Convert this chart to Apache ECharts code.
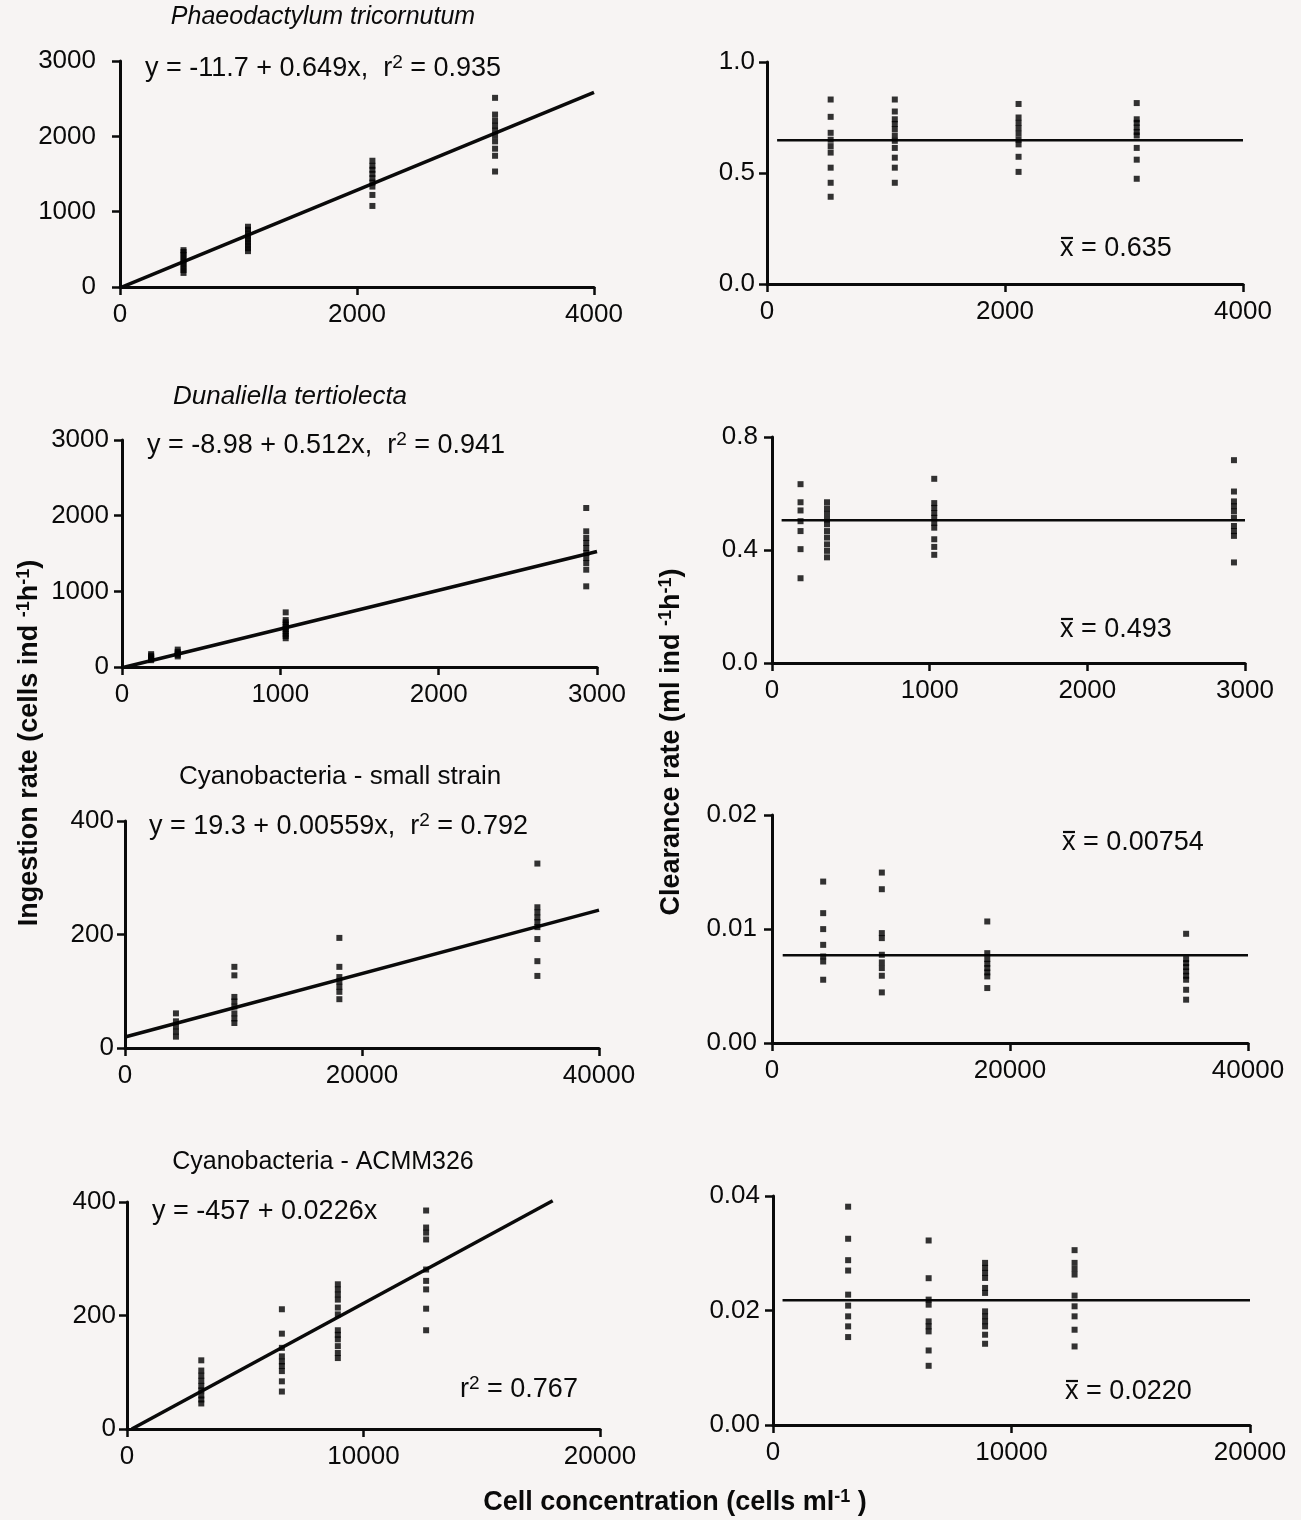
<!DOCTYPE html>
<html><head><meta charset="utf-8">
<script src="https://cdn.jsdelivr.net/npm/echarts@6/dist/echarts.min.js"></script>
<style>html,body{margin:0;padding:0;background:#f7f4f3}#c{width:1301px;height:1520px}</style>
</head><body><div id="c"></div>
<script>
// ---------- DATA ----------
// Phaeodactylum tricornutum
const phaeoConc = [536, 1080, 2130, 3165];
const phaeoIngestion = [
  [187, 225, 265, 305, 345, 385, 425, 465, 489],
  [476, 515, 555, 595, 635, 675, 715, 760, 800],
  [1676, 1609, 1556, 1502, 1444, 1387, 1333, 1222, 1076],
  [2511, 2289, 2209, 2142, 2076, 2009, 1933, 1836, 1742, 1533]
];
const phaeoClearConc = [535, 1074, 2114, 3107];
const phaeoClearance = [
  [0.831, 0.753, 0.681, 0.650, 0.621, 0.592, 0.524, 0.456, 0.393],
  [0.831, 0.777, 0.742, 0.721, 0.698, 0.669, 0.645, 0.613, 0.569, 0.524, 0.456],
  [0.811, 0.750, 0.726, 0.702, 0.677, 0.650, 0.629, 0.573, 0.505],
  [0.815, 0.742, 0.726, 0.705, 0.685, 0.669, 0.613, 0.560, 0.474]
];
// Dunaliella tertiolecta
const dunaConc = [184, 352, 1034, 2932];
const dunaIngestion = [
  [90, 110, 130, 150, 170],
  [140, 160, 180, 200, 230],
  [722, 620, 590, 560, 530, 500, 470, 440, 410, 380],
  [2101, 1793, 1705, 1639, 1573, 1507, 1440, 1374, 1286, 1066]
];
const dunaClearConc = [181, 349, 1029, 2930];
const dunaClearance = [
  [0.633, 0.569, 0.540, 0.502, 0.467, 0.403, 0.300],
  [0.569, 0.547, 0.528, 0.508, 0.491, 0.467, 0.444, 0.420, 0.397, 0.374],
  [0.652, 0.566, 0.549, 0.531, 0.514, 0.496, 0.479, 0.438, 0.411, 0.383],
  [0.718, 0.607, 0.572, 0.555, 0.537, 0.514, 0.485, 0.467, 0.450, 0.356]
];
// Cyanobacteria - small strain
const smallConc = [4300, 9230, 18090, 34800];
const smallIngestion = [
  [61, 47, 38, 29, 20],
  [143, 128, 90, 82, 73, 61, 52, 44],
  [194, 143, 125, 117, 108, 99, 86],
  [325, 248, 239, 230, 222, 213, 192, 153, 127]
];
const smallClearConc = [4300, 9230, 18090, 34800];
const smallClearance = [
  [0.01416, 0.01139, 0.00999, 0.00861, 0.00759, 0.00715, 0.00555],
  [0.01495, 0.01349, 0.00964, 0.00920, 0.00774, 0.00707, 0.00657, 0.00590, 0.00444],
  [0.01066, 0.00788, 0.00736, 0.00695, 0.00657, 0.00619, 0.00584, 0.00482],
  [0.00958, 0.00736, 0.00701, 0.00666, 0.00628, 0.00590, 0.00555, 0.00467, 0.00380]
];
// Cyanobacteria - ACMM326
const acmmConc = [3141, 6549, 8915, 12648];
const acmmIngestion = [
  [121, 103, 94, 85, 76, 68, 59, 52, 45],
  [211, 168, 143, 128, 119, 111, 102, 84, 66],
  [255, 246, 237, 228, 214, 202, 174, 166, 158, 146, 134, 125],
  [385, 355, 346, 334, 281, 261, 246, 212, 174]
];
const acmmClearConc = [3150, 6526, 8892, 12645];
const acmmClearance = [
  [0.03813, 0.03253, 0.02879, 0.02698, 0.02277, 0.02085, 0.01898, 0.01723, 0.01536],
  [0.03223, 0.02564, 0.02190, 0.02102, 0.01810, 0.01723, 0.01635, 0.01302, 0.01034],
  [0.02832, 0.02745, 0.02657, 0.02569, 0.02394, 0.02307, 0.01985, 0.01898, 0.01810, 0.01723, 0.01577, 0.01419],
  [0.03054, 0.02832, 0.02727, 0.02628, 0.02260, 0.02073, 0.01898, 0.01664, 0.01372]
];

// regression fits (ingestion) and mean clearance lines as drawn
const fitIntercept = [-11.7, -8.98, 19.3, -4.57];
const fitSlope = [0.649, 0.512, 0.00559, 0.0226];
const fitRange = [[0, 4000], [0, 3000], [0, 40000], [202, 18000]];
const meanLevel = [0.648, 0.505, 0.0077, 0.0218];
const meanRange = [[85, 4000], [61, 3000], [900, 40000], [400, 20000]];

// tick labels
const phaeoXTicks = [0, 2000, 4000];
const dunaXTicks = [0, 1000, 2000, 3000];
const smallXTicks = [0, 20000, 40000];
const acmmXTicks = [0, 10000, 20000];
const phaeoIngTicks = [0, 1000, 2000, 3000];
const phaeoClrTicks = [0, 0.5, 1.0];
const dunaIngTicks = [0, 1000, 2000, 3000];
const dunaClrTicks = [0, 0.4, 0.8];
const smallIngTicks = [0, 200, 400];
const smallClrTicks = [0, 0.01, 0.02];
const acmmIngTicks = [0, 200, 400];
const acmmClrTicks = [0, 0.02, 0.04];

const titles = ['Phaeodactylum tricornutum', 'Dunaliella tertiolecta', 'Cyanobacteria - small strain', 'Cyanobacteria - ACMM326'];
const equations = [
  ['y = -11.7 + 0.649x,  r', '2', ' = 0.935'],
  ['y = -8.98 + 0.512x,  r', '2', ' = 0.941'],
  ['y = 19.3 + 0.00559x,  r', '2', ' = 0.792'],
  ['y = -457 + 0.0226x', '', '']
];
const meanLabels = ['0.635', '0.493', '0.00754', '0.0220'];

// ---------- LAYOUT ----------
const FONT = '"Liberation Sans", Arial, Helvetica, sans-serif';
const INK = '#0a0a0a';
const FS = 26;
const grids = [
  {left: 120, top: 61, width: 474, height: 226},
  {left: 767, top: 62, width: 476, height: 222},
  {left: 122, top: 440, width: 475, height: 227},
  {left: 772, top: 437, width: 473, height: 226},
  {left: 125, top: 821, width: 474, height: 227},
  {left: 772, top: 815, width: 476, height: 228},
  {left: 127, top: 1202, width: 473, height: 227},
  {left: 773, top: 1196, width: 477, height: 229}
];
const yLabelMargin = [24, 12, 13, 14, 11, 15, 11, 13];
const panels = [
  {x: phaeoXTicks, y: phaeoIngTicks, dec: 0, conc: phaeoConc, vals: phaeoIngestion, fit: 0},
  {x: phaeoXTicks, y: phaeoClrTicks, dec: 1, conc: phaeoClearConc, vals: phaeoClearance, mean: 0},
  {x: dunaXTicks, y: dunaIngTicks, dec: 0, conc: dunaConc, vals: dunaIngestion, fit: 1},
  {x: dunaXTicks, y: dunaClrTicks, dec: 1, conc: dunaClearConc, vals: dunaClearance, mean: 1},
  {x: smallXTicks, y: smallIngTicks, dec: 0, conc: smallConc, vals: smallIngestion, fit: 2},
  {x: smallXTicks, y: smallClrTicks, dec: 2, conc: smallClearConc, vals: smallClearance, mean: 2},
  {x: acmmXTicks, y: acmmIngTicks, dec: 0, conc: acmmConc, vals: acmmIngestion, fit: 3},
  {x: acmmXTicks, y: acmmClrTicks, dec: 2, conc: acmmClearConc, vals: acmmClearance, mean: 3}
];

const xAxes = [], yAxes = [], series = [];
panels.forEach((p, i) => {
  const axisCommon = {
    axisLine: {show: true, onZero: false, lineStyle: {color: INK, width: 3}},
    axisTick: {show: true, inside: false, length: 8, lineStyle: {color: INK, width: 2.5}},
    splitLine: {show: false},
  };
  xAxes.push(Object.assign({
    type: 'value', gridIndex: i,
    min: p.x[0], max: p.x[p.x.length - 1], interval: p.x[1] - p.x[0],
    axisLabel: {color: INK, fontSize: FS, fontFamily: FONT, margin: 15, showMinLabel: true, showMaxLabel: true,
      formatter: v => String(Math.round(v))}
  }, axisCommon));
  yAxes.push(Object.assign({
    type: 'value', gridIndex: i,
    min: p.y[0], max: p.y[p.y.length - 1], interval: p.y[1] - p.y[0],
    axisLabel: {color: INK, fontSize: FS, fontFamily: FONT, margin: yLabelMargin[i], showMinLabel: true, showMaxLabel: true,
      formatter: v => (+v).toFixed(p.dec)}
  }, axisCommon));
  const pts = [];
  p.conc.forEach((c, g) => p.vals[g].forEach(v => pts.push([c, v])));
  series.push({
    type: 'scatter', xAxisIndex: i, yAxisIndex: i, data: pts,
    symbol: 'rect', symbolSize: 6, itemStyle: {color: '#000'}, silent: true, z: 3
  });
  let lineData, lw;
  if (p.fit !== undefined) {
    const k = p.fit;
    lineData = fitRange[k].map(x => [x, fitIntercept[k] + fitSlope[k] * x]);
    lw = 3.5;
  } else {
    const k = p.mean;
    lineData = meanRange[k].map(x => [x, meanLevel[k]]);
    lw = 2.5;
  }
  series.push({
    type: 'line', xAxisIndex: i, yAxisIndex: i, data: lineData, symbol: 'none',
    lineStyle: {color: INK, width: lw}, silent: true, clip: false, z: 2
  });
});

// ---------- TEXT ----------
const rich = {
  n: {fontSize: 27, fontFamily: FONT, fill: INK, color: INK},
  s: {fontSize: 19, fontFamily: FONT, fill: INK, color: INK, padding: [0, 0, 13, 0]},
  b: {fontSize: 27, fontFamily: FONT, fontWeight: 'bold', fill: INK, color: INK},
  bs: {fontSize: 18, fontFamily: FONT, fontWeight: 'bold', fill: INK, color: INK, padding: [0, 0, 12, 0]}
};
function txt(x, y, text, opts) {
  opts = opts || {};
  return {
    type: 'text', x: x, y: y, rotation: opts.rot || 0, silent: true,
    style: {
      text: text, rich: rich,
      font: (opts.italic ? 'italic ' : '') + (opts.bold ? 'bold ' : '') + (opts.size || FS) + 'px ' + FONT,
      fill: INK,
      textAlign: opts.align || 'left', align: opts.align || 'left',
      textVerticalAlign: 'middle', verticalAlign: 'middle'
    }
  };
}
function eq(x, y, e) {
  return txt(x, y, '{n|' + e[0] + '}' + (e[1] ? '{s|' + e[1] + '}{n|' + e[2] + '}' : ''));
}
function xbar(x, y, val) {
  return [
    txt(x, y, '{n|x = ' + val + '}'),
    {type: 'line', silent: true, shape: {x1: x + 1, y1: y - 11, x2: x + 13, y2: y - 11},
      style: {stroke: INK, lineWidth: 2.2}}
  ];
}
const graphic = [
  txt(323, 17, titles[0], {italic: true, align: 'center', size: 25}),
  txt(290, 397, titles[1], {italic: true, align: 'center', size: 26}),
  txt(340, 777, titles[2], {align: 'center'}),
  txt(323, 1162, titles[3], {align: 'center', size: 25}),
  eq(145, 69, equations[0]),
  eq(147, 446, equations[1]),
  eq(149, 827, equations[2]),
  eq(152, 1212, equations[3]),
  txt(460, 1390, '{n|r}{s|2}{n| = 0.767}'),
  ...xbar(1060, 249, meanLabels[0]),
  ...xbar(1060, 630, meanLabels[1]),
  ...xbar(1062, 843, meanLabels[2]),
  ...xbar(1065, 1392, meanLabels[3]),
  txt(30, 743, '{b|Ingestion rate (cells ind }{bs|-1}{b|h}{bs|-1}{b|)}', {rot: Math.PI / 2, align: 'center', bold: true}),
  txt(672, 742, '{b|Clearance rate (ml ind }{bs|-1}{b|h}{bs|-1}{b|)}', {rot: Math.PI / 2, align: 'center', bold: true}),
  txt(675, 1503, '{b|Cell concentration (cells ml}{bs|-1}{b| )}', {align: 'center', bold: true})
];

const chart = echarts.init(document.getElementById('c'), null, {renderer: 'canvas'});
chart.setOption({
  backgroundColor: '#f7f4f3',
  animation: false,
  grid: grids.map(g => Object.assign({containLabel: false}, g)),
  xAxis: xAxes,
  yAxis: yAxes,
  series: series,
  graphic: graphic
});
</script></body></html>
